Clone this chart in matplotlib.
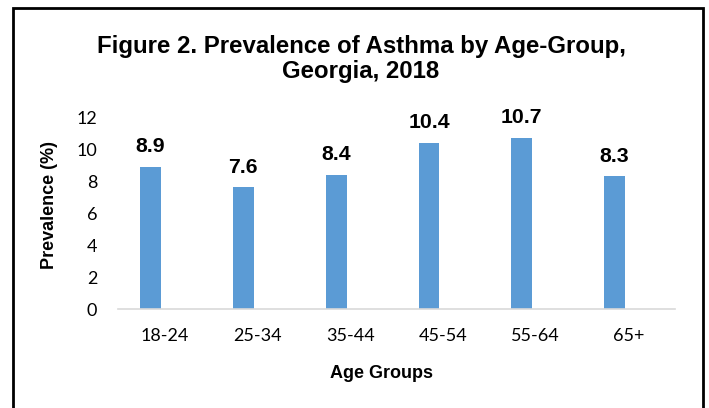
import matplotlib.pyplot as plt
from matplotlib.patches import Rectangle

# Asthma prevalence by age group, Georgia 2018
age_groups = ["18-24", "25-34", "35-44", "45-54", "55-64", "65+"]
prevalence = [8.9, 7.6, 8.4, 10.4, 10.7, 8.3]
y_ticks = [0, 2, 4, 6, 8, 10, 12]

fig = plt.figure(figsize=(7.09, 4.08), dpi=100)
W, H = 709, 408
ax = fig.add_axes([118 / W, 1 - 309 / H, (675 - 118) / W, (309 - 117) / H])

# bars sit a little left of each category centre
x = list(range(len(age_groups)))
shift = -0.15
bar_x = [xi + shift for xi in x]
bars = ax.bar(bar_x, prevalence, width=0.226, color="#5B9BD5", zorder=2)
for bx, v in zip(bar_x, prevalence):
    ax.text(bx, v + 0.65, f"{v}", ha="center", va="bottom",
            fontsize=15.3, fontweight="bold", family="Liberation Sans")

ax.set_xlim(-0.5, len(age_groups) - 0.5)
ax.set_ylim(0, 12)
ax.set_yticks(y_ticks)
ax.set_xticks(x)
ax.set_xticklabels(age_groups)
ax.tick_params(axis="both", length=0, labelsize=13)
ax.tick_params(axis="x", pad=14)
ax.tick_params(axis="y", pad=15)
for lbl in ax.get_xticklabels() + ax.get_yticklabels():
    lbl.set_family("Lato")
for s in ["top", "right", "left"]:
    ax.spines[s].set_visible(False)
ax.spines["bottom"].set_color("#d9d9d9")
ax.spines["bottom"].set_linewidth(1.2)

fig.text(50 / W, 1 - 205 / H, "Prevalence (%)", rotation=90, ha="center", va="center",
         fontsize=13, fontweight="bold", family="Liberation Sans")
fig.text(381 / W, 1 - 374 / H, "Age Groups", ha="center", va="center",
         fontsize=13, fontweight="bold", family="Liberation Sans")

fig.text(361 / W, 1 - 59 / H, "Figure 2. Prevalence of Asthma by Age-Group,\nGeorgia, 2018",
         ha="center", va="center", fontsize=17.3, fontweight="bold",
         family="Liberation Sans", linespacing=1.15)

# outer frame of the chart area
fig.patches.append(Rectangle((13 / W, -0.05), (703 - 13) / W, 1 - 8 / H + 0.05,
                             transform=fig.transFigure, fill=False,
                             edgecolor="black", linewidth=2))

fig.savefig("out.png", dpi=100)
